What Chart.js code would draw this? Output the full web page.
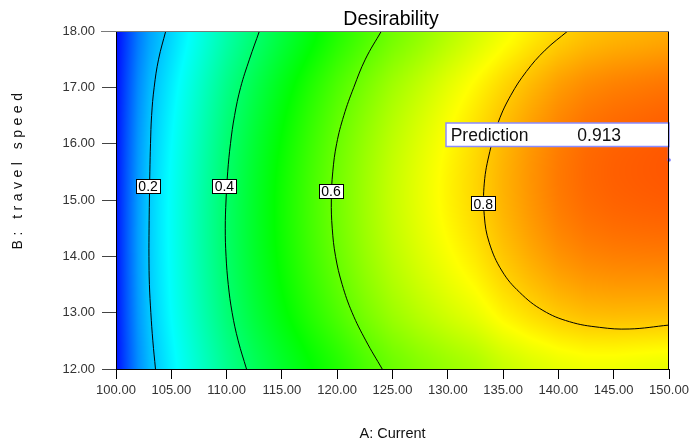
<!DOCTYPE html>
<html>
<head>
<meta charset="utf-8">
<script src="https://cdn.jsdelivr.net/npm/chart.js@4/dist/chart.umd.min.js"></script>
<style>
  html, body { margin: 0; padding: 0; background: #fff; }
  #wrap { position: relative; width: 690px; height: 445px; }
</style>
</head>
<body>
<div id="wrap"><canvas id="chart"></canvas></div>
<script>
// Grid of the desirability surface: A (current) columns, B (travel speed) rows
const currentA = [100, 101, 102, 103, 104, 105, 107.5, 110, 112.5, 115, 117.5, 120,
                  122.5, 125, 127.5, 130, 132.5, 135, 137.5, 140, 142.5, 145, 147.5, 150];
const travelSpeedB = [12, 13, 14, 15, 16, 17, 18];

const desirabilityAt12 = [0.014, 0.078, 0.139, 0.182, 0.210, 0.237, 0.300, 0.361, 0.412, 0.457, 0.496, 0.531,
                          0.571, 0.604, 0.628, 0.648, 0.666, 0.694, 0.713, 0.727, 0.735, 0.735, 0.731, 0.727];
const desirabilityAt13 = [0.018, 0.086, 0.150, 0.194, 0.223, 0.251, 0.319, 0.385, 0.441, 0.491, 0.535, 0.576,
                          0.618, 0.654, 0.682, 0.707, 0.730, 0.762, 0.785, 0.804, 0.816, 0.819, 0.818, 0.817];
const desirabilityAt14 = [0.020, 0.090, 0.155, 0.199, 0.229, 0.257, 0.329, 0.398, 0.457, 0.510, 0.558, 0.603,
                          0.646, 0.684, 0.715, 0.744, 0.771, 0.805, 0.832, 0.855, 0.869, 0.875, 0.877, 0.878];
const desirabilityAt15 = [0.020, 0.089, 0.154, 0.199, 0.229, 0.257, 0.329, 0.399, 0.459, 0.515, 0.565, 0.612,
                          0.655, 0.695, 0.728, 0.760, 0.789, 0.824, 0.853, 0.879, 0.895, 0.903, 0.907, 0.910];
const desirabilityAt16 = [0.017, 0.085, 0.148, 0.192, 0.221, 0.249, 0.319, 0.389, 0.449, 0.504, 0.555, 0.603,
                          0.646, 0.686, 0.720, 0.753, 0.784, 0.819, 0.850, 0.876, 0.894, 0.903, 0.908, 0.913];
const desirabilityAt17 = [0.013, 0.076, 0.136, 0.178, 0.207, 0.233, 0.300, 0.367, 0.425, 0.479, 0.529, 0.576,
                          0.618, 0.658, 0.691, 0.725, 0.757, 0.790, 0.820, 0.847, 0.865, 0.875, 0.881, 0.887];
const desirabilityAt18 = [0.007, 0.064, 0.119, 0.159, 0.186, 0.210, 0.271, 0.333, 0.388, 0.439, 0.486, 0.531,
                          0.571, 0.610, 0.641, 0.675, 0.707, 0.738, 0.766, 0.791, 0.809, 0.819, 0.825, 0.832];
const desirabilityRows = [desirabilityAt12, desirabilityAt13, desirabilityAt14, desirabilityAt15,
                          desirabilityAt16, desirabilityAt17, desirabilityAt18];

// Contour lines (A, B) for each desirability level
const contourLevels = [0.2, 0.4, 0.6, 0.8];
const contour02 = [[104.5, 18], [103.85, 17.5], [103.45, 17], [103.22, 16.5], [103.12, 16], [103.06, 15.5],
                   [103.02, 15], [102.99, 14.5], [102.98, 14], [103.02, 13.5], [103.15, 13], [103.33, 12.5],
                   [103.57, 12]];
const contour04 = [[112.97, 18], [112.07, 17.5], [111.27, 17], [110.72, 16.5], [110.35, 16], [110.1, 15.5],
                   [109.95, 15], [109.88, 14.5], [109.95, 14], [110.15, 13.5], [110.5, 13], [111.05, 12.5],
                   [111.8, 12]];
const contour06 = [[124.0, 18], [122.55, 17.5], [121.5, 17], [120.6, 16.5], [119.95, 16], [119.6, 15.5],
                   [119.47, 15], [119.55, 14.5], [119.85, 14], [120.45, 13.5], [121.35, 13], [122.6, 12.5],
                   [124.07, 12]];
const contour08 = [[140.85, 18], [138.8, 17.66], [137.1, 17.28], [135.7, 16.86], [134.6, 16.4], [133.8, 15.86],
                   [133.3, 15.3], [133.3, 14.72], [133.75, 14.24], [134.9, 13.74], [136.5, 13.36], [138.6, 13.04],
                   [141.0, 12.84], [143.7, 12.74], [146.4, 12.71], [150, 12.78]];
const contourLines = [contour02, contour04, contour06, contour08];
const contourLabelAt = [[102.9, 15.24], [109.8, 15.24], [119.44, 15.15], [133.2, 14.93]];

// Prediction flag
const predictionAt = [150, 15.71];
const predictionValue = 0.913;

// Axis ticks
const currentTicks = [100, 105, 110, 115, 120, 125, 130, 135, 140, 145, 150];
const speedTicks = [12, 13, 14, 15, 16, 17, 18];

const FONT = '"Liberation Sans", Arial, Helvetica, sans-serif';

// Blue - cyan - green - yellow - red colour ramp
const colourStops = [[0, [0, 0, 255]], [0.25, [0, 255, 255]], [0.5, [0, 255, 0]], [0.75, [255, 255, 0]], [1, [255, 0, 0]]];
function colourFor(d) {
  d = Math.max(0, Math.min(1, d));
  for (let k = 1; k < colourStops.length; k++) {
    if (d <= colourStops[k][0]) {
      const [a, ca] = colourStops[k - 1], [b, cb] = colourStops[k];
      const t = (d - a) / (b - a);
      return [ca[0] + (cb[0] - ca[0]) * t, ca[1] + (cb[1] - ca[1]) * t, ca[2] + (cb[2] - ca[2]) * t];
    }
  }
  return colourStops[colourStops.length - 1][1];
}
function catmull(p0, p1, p2, p3, t) {
  return 0.5 * (2 * p1 + (-p0 + p2) * t + (2 * p0 - 5 * p1 + 4 * p2 - p3) * t * t + (-p0 + 3 * p1 - 3 * p2 + p3) * t * t * t);
}

// Shaded desirability surface under the contour lines
const fieldPlugin = {
  id: 'desirabilityField',
  beforeDatasetsDraw(chart) {
    const { ctx, chartArea: a, scales: { x, y } } = chart;
    const W = Math.round(a.right - a.left), H = Math.round(a.bottom - a.top);
    if (!chart.$field || chart.$field.width !== W || chart.$field.height !== H) {
      const off = document.createElement('canvas');
      off.width = W; off.height = H;
      const octx = off.getContext('2d');
      const img = octx.createImageData(W, H);
      const nR = travelSpeedB.length;
      const cols = [];
      for (let px = 0; px < W; px++) {
        const xv = x.getValueForPixel(a.left + px + 0.5);
        let i = 0;
        while (i < currentA.length - 2 && xv > currentA[i + 1]) i++;
        const t = Math.max(0, Math.min(1, (xv - currentA[i]) / (currentA[i + 1] - currentA[i])));
        cols.push(desirabilityRows.map(r => r[i] + (r[i + 1] - r[i]) * t));
      }
      for (let py = 0; py < H; py++) {
        const yv = y.getValueForPixel(a.top + py + 0.5);
        let j = 0;
        while (j < nR - 2 && yv > travelSpeedB[j + 1]) j++;
        const t = Math.max(0, Math.min(1, (yv - travelSpeedB[j]) / (travelSpeedB[j + 1] - travelSpeedB[j])));
        for (let px = 0; px < W; px++) {
          const c = cols[px];
          const d = catmull(c[Math.max(j - 1, 0)], c[j], c[j + 1], c[Math.min(j + 2, nR - 1)], t);
          const rgb = colourFor(d);
          const k = (py * W + px) * 4;
          img.data[k] = rgb[0]; img.data[k + 1] = rgb[1]; img.data[k + 2] = rgb[2]; img.data[k + 3] = 255;
        }
      }
      octx.putImageData(img, 0, 0);
      chart.$field = off;
    }
    ctx.drawImage(chart.$field, a.left, a.top);
  }
};

// Contour labels, prediction flag, plot frame and titles
const overlayPlugin = {
  id: 'overlay',
  afterDatasetsDraw(chart) {
    const { ctx, chartArea: a, scales: { x, y } } = chart;
    ctx.save();
    // contour level tags
    ctx.font = '14px ' + FONT;
    ctx.textAlign = 'center';
    ctx.textBaseline = 'middle';
    contourLevels.forEach((lv, n) => {
      const cx = x.getPixelForValue(contourLabelAt[n][0]);
      const cy = y.getPixelForValue(contourLabelAt[n][1]);
      const txt = String(lv);
      const w = Math.round(ctx.measureText(txt).width + 6), h = 15;
      const bx = Math.round(cx - w / 2), by = Math.round(cy - h / 2);
      ctx.fillStyle = '#fff';
      ctx.fillRect(bx, by, w, h);
      ctx.strokeStyle = '#000';
      ctx.lineWidth = 1;
      ctx.strokeRect(bx + 0.5, by + 0.5, w - 1, h - 1);
      ctx.fillStyle = '#000';
      ctx.fillText(txt, cx, cy + 1);
    });

    // prediction flag
    const px = x.getPixelForValue(predictionAt[0]);
    const py = y.getPixelForValue(predictionAt[1]);
    const boxW = 223, boxH = 23.5;
    const bx = px - boxW, by = py - 37;
    ctx.fillStyle = '#fff';
    ctx.fillRect(bx, by, boxW, boxH);
    ctx.strokeStyle = '#8a8aff';
    ctx.lineWidth = 1.5;
    ctx.strokeRect(bx, by, boxW, boxH);
    ctx.beginPath();
    ctx.moveTo(px - 0.5, by + boxH);
    ctx.lineTo(px - 0.5, py);
    ctx.stroke();
    ctx.fillStyle = '#111';
    ctx.font = '17.5px ' + FONT;
    ctx.textAlign = 'left';
    ctx.textBaseline = 'alphabetic';
    ctx.fillText('Prediction', bx + 4.7, by + 17.6);
    ctx.fillText(predictionValue.toFixed(3), bx + 131.3, by + 17.6);

    // plot frame
    ctx.lineWidth = 1;
    ctx.strokeStyle = '#000';
    ctx.beginPath();
    ctx.moveTo(a.left + 0.5, a.top);
    ctx.lineTo(a.left + 0.5, a.bottom + 0.5);
    ctx.lineTo(a.right - 0.5, a.bottom + 0.5);
    ctx.lineTo(a.right - 0.5, a.top);
    ctx.stroke();
    ctx.strokeStyle = '#7a7a7a';
    ctx.beginPath();
    ctx.moveTo(a.left - 15, a.top + 0.5);
    ctx.lineTo(a.right, a.top + 0.5);
    ctx.stroke();
    ctx.restore();
  },
  afterDraw(chart) {
    const { ctx, chartArea: a } = chart;
    ctx.save();
    // chart title
    ctx.fillStyle = '#000';
    ctx.font = '19.5px ' + FONT;
    ctx.textAlign = 'center';
    ctx.textBaseline = 'alphabetic';
    ctx.fillText('Desirability', (a.left + a.right) / 2 - 1.5, 25);
    // letter-spaced vertical axis title
    ctx.translate(21.7, 169);
    ctx.rotate(-Math.PI / 2);
    ctx.font = '14px ' + FONT;
    ctx.fillStyle = '#111';
    if ('letterSpacing' in ctx) ctx.letterSpacing = '4.5px';
    ctx.fillText('B: travel speed', 0, 0);
    ctx.restore();
  }
};

const tickFont = { family: FONT, size: 13 };

new Chart(document.getElementById('chart'), {
  type: 'scatter',
  data: {
    datasets: contourLines.map((pts, n) => ({
      label: 'Desirability ' + contourLevels[n],
      data: pts.map(([a, b]) => ({ x: a, y: b })),
      showLine: true,
      borderColor: '#000',
      borderWidth: 1,
      pointRadius: 0,
      tension: 0.4,
      fill: false
    })).concat([{
      label: 'Prediction',
      data: [{ x: predictionAt[0], y: predictionAt[1] }],
      showLine: false,
      pointRadius: 1.8,
      pointBackgroundColor: '#6f6fff',
      pointBorderWidth: 0,
      clip: false
    }])
  },
  options: {
    responsive: true,
    maintainAspectRatio: false,
    animation: false,
    events: [],
    layout: { padding: { top: 31, right: 21, bottom: 0, left: 0 } },
    plugins: { legend: { display: false }, tooltip: { enabled: false }, title: { display: false } },
    scales: {
      x: {
        type: 'linear',
        min: 100,
        max: 150,
        afterBuildTicks: s => { s.ticks = currentTicks.map(v => ({ value: v })); },
        afterFit: s => { s.height = 76; s.paddingLeft = 0; s.paddingRight = 0; },
        ticks: { autoSkip: false, maxRotation: 0, color: '#333', font: tickFont, padding: 4,
                 callback: v => Number(v).toFixed(2) },
        grid: { drawOnChartArea: false, drawTicks: true, tickLength: 10, color: '#000' },
        border: { display: true, color: '#000' },
        title: { display: true, text: 'A: Current', color: '#111',
                 font: { family: FONT, size: 14.5 }, padding: { top: 0, bottom: 2.5 } }
      },
      y: {
        type: 'linear',
        min: 12,
        max: 18,
        afterBuildTicks: s => { s.ticks = speedTicks.map(v => ({ value: v })); },
        afterFit: s => { s.width = 116; s.paddingTop = 0; s.paddingBottom = 0; },
        ticks: { autoSkip: false, color: '#333', font: tickFont, padding: 7,
                 callback: v => Number(v).toFixed(2) },
        grid: { drawOnChartArea: false, drawTicks: true, tickLength: 14, color: '#444' },
        border: { display: true, color: '#000' }
      }
    }
  },
  plugins: [fieldPlugin, overlayPlugin]
});
</script>
</body>
</html>
